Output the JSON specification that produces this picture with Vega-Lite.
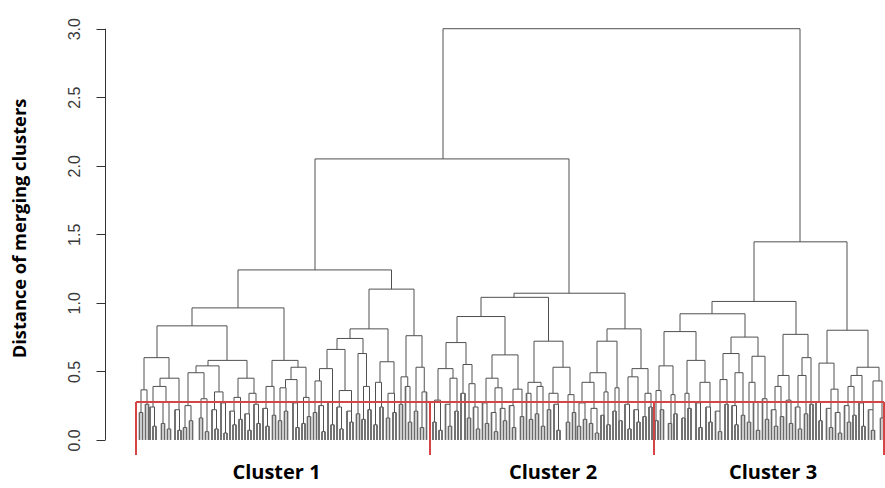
{
  "$schema": "https://vega.github.io/schema/vega-lite/v6.json",
  "width": 780,
  "height": 466,
  "autosize": {"type": "none"},
  "padding": {"left": 105, "top": 15, "right": 0, "bottom": 7},
  "background": "white",
  "config": {"view": {"stroke": null}},
  "datasets": {
    "tree": [
      {"l":443,"r":800,"hl":2.05,"hr":1.445,"h":3.0},
      {"l":315,"r":569,"hl":1.24,"hr":1.07,"h":2.05},
      {"l":238,"r":391.5,"hl":0.963,"hr":1.10,"h":1.24},
      {"l":192,"r":284,"hl":0.832,"hr":0.58,"h":0.963},
      {"l":157,"r":227,"hl":0.60,"hr":0.58,"h":0.832},
      {"l":144,"r":169,"hl":0.365,"hr":0.45,"h":0.60},
      {"l":141,"r":147,"hl":0.20,"hr":0.26,"h":0.365},
      {"l":160,"r":179,"hl":0.39,"hr":0.22,"h":0.45},
      {"l":153,"r":166,"hl":0.24,"hr":0.28,"h":0.39},
      {"l":208,"r":247,"hl":0.54,"hr":0.45,"h":0.58},
      {"l":196,"r":219,"hl":0.49,"hr":0.35,"h":0.54},
      {"l":188,"r":204,"hl":0.25,"hr":0.30,"h":0.49},
      {"l":214.5,"r":223,"hl":0.22,"hr":0.27,"h":0.35},
      {"l":238,"r":254,"hl":0.31,"hr":0.34,"h":0.45},
      {"l":234,"r":240.5,"hl":0.21,"hr":0.15,"h":0.31},
      {"l":249,"r":256,"hl":0.19,"hr":0.26,"h":0.34},
      {"l":272,"r":298,"hl":0.39,"hr":0.53,"h":0.58},
      {"l":266,"r":274,"hl":0.23,"hr":0.18,"h":0.39},
      {"l":291,"r":306,"hl":0.44,"hr":0.31,"h":0.53},
      {"l":285.5,"r":297,"hl":0.38,"hr":0.27,"h":0.44},
      {"l":280,"r":286,"hl":0.14,"hr":0.21,"h":0.38},
      {"l":303.5,"r":309,"hl":0.12,"hr":0.17,"h":0.31},
      {"l":369,"r":414,"hl":0.81,"hr":0.76,"h":1.10},
      {"l":350,"r":388,"hl":0.74,"hr":0.57,"h":0.81},
      {"l":337,"r":363,"hl":0.66,"hr":0.63,"h":0.74},
      {"l":327,"r":345,"hl":0.52,"hr":0.36,"h":0.66},
      {"l":319.5,"r":332.5,"hl":0.43,"hr":0.28,"h":0.52},
      {"l":315,"r":321.25,"hl":0.20,"hr":0.25,"h":0.43},
      {"l":339.25,"r":351.5,"hl":0.24,"hr":0.21,"h":0.36},
      {"l":358,"r":366.5,"hl":0.19,"hr":0.39,"h":0.63},
      {"l":363.5,"r":369.5,"hl":0.15,"hr":0.22,"h":0.39},
      {"l":380,"r":394,"hl":0.42,"hr":0.34,"h":0.57},
      {"l":375.5,"r":381.5,"hl":0.11,"hr":0.24,"h":0.42},
      {"l":388,"r":394.5,"hl":0.16,"hr":0.20,"h":0.34},
      {"l":406,"r":422,"hl":0.46,"hr":0.53,"h":0.76},
      {"l":401,"r":407.75,"hl":0.26,"hr":0.39,"h":0.46},
      {"l":405.5,"r":410,"hl":0,"hr":0.13,"h":0.39},
      {"l":416,"r":424.25,"hl":0.21,"hr":0.35,"h":0.53},
      {"l":422,"r":426.5,"hl":0.09,"hr":0,"h":0.35},
      {"l":139.5,"r":142.5,"hl":0,"hr":0,"h":0.20},
      {"l":145.5,"r":148.5,"hl":0,"hr":0,"h":0.26},
      {"l":153,"r":156,"hl":0,"hr":0,"h":0.10},
      {"l":150,"r":154.5,"hl":0,"hr":0.10,"h":0.24},
      {"l":161.5,"r":164.5,"hl":0,"hr":0,"h":0.12},
      {"l":167.5,"r":170.5,"hl":0,"hr":0,"h":0.08},
      {"l":163,"r":169,"hl":0.12,"hr":0.08,"h":0.28},
      {"l":178,"r":181,"hl":0,"hr":0,"h":0.07},
      {"l":175,"r":179.5,"hl":0,"hr":0.07,"h":0.22},
      {"l":183.5,"r":186.5,"hl":0,"hr":0,"h":0.09},
      {"l":189.5,"r":192.5,"hl":0,"hr":0,"h":0.14},
      {"l":185,"r":191,"hl":0.09,"hr":0.14,"h":0.25},
      {"l":199.5,"r":202.5,"hl":0,"hr":0,"h":0.16},
      {"l":205.5,"r":208.5,"hl":0,"hr":0,"h":0.06},
      {"l":201,"r":207,"hl":0.16,"hr":0.06,"h":0.30},
      {"l":215,"r":218,"hl":0,"hr":0,"h":0.08},
      {"l":212,"r":216.5,"hl":0,"hr":0.08,"h":0.22},
      {"l":224,"r":227,"hl":0,"hr":0,"h":0.05},
      {"l":221,"r":225.5,"hl":0,"hr":0.05,"h":0.27},
      {"l":233,"r":236,"hl":0,"hr":0,"h":0.11},
      {"l":230,"r":234.5,"hl":0,"hr":0.11,"h":0.21},
      {"l":239,"r":242,"hl":0,"hr":0,"h":0.15},
      {"l":248,"r":251,"hl":0,"hr":0,"h":0.07},
      {"l":245,"r":249.5,"hl":0,"hr":0.07,"h":0.19},
      {"l":257,"r":260,"hl":0,"hr":0,"h":0.12},
      {"l":254,"r":258.5,"hl":0,"hr":0.12,"h":0.26},
      {"l":266,"r":269,"hl":0,"hr":0,"h":0.10},
      {"l":263,"r":267.5,"hl":0,"hr":0.10,"h":0.23},
      {"l":272.5,"r":275.5,"hl":0,"hr":0,"h":0.18},
      {"l":278.5,"r":281.5,"hl":0,"hr":0,"h":0.14},
      {"l":284.5,"r":287.5,"hl":0,"hr":0,"h":0.21},
      {"l":296,"r":299,"hl":0,"hr":0,"h":0.09},
      {"l":293,"r":297.5,"hl":0,"hr":0.09,"h":0.27},
      {"l":302,"r":305,"hl":0,"hr":0,"h":0.12},
      {"l":307.5,"r":310.5,"hl":0,"hr":0,"h":0.17},
      {"l":313.5,"r":316.5,"hl":0,"hr":0,"h":0.20},
      {"l":322,"r":325,"hl":0,"hr":0,"h":0.06},
      {"l":319,"r":323.5,"hl":0,"hr":0.06,"h":0.25},
      {"l":331,"r":334,"hl":0,"hr":0,"h":0.11},
      {"l":328,"r":332.5,"hl":0,"hr":0.11,"h":0.28},
      {"l":340,"r":343,"hl":0,"hr":0,"h":0.08},
      {"l":337,"r":341.5,"hl":0,"hr":0.08,"h":0.24},
      {"l":350,"r":353,"hl":0,"hr":0,"h":0.13},
      {"l":347,"r":351.5,"hl":0,"hr":0.13,"h":0.21},
      {"l":356.5,"r":359.5,"hl":0,"hr":0,"h":0.19},
      {"l":362,"r":365,"hl":0,"hr":0,"h":0.15},
      {"l":368,"r":371,"hl":0,"hr":0,"h":0.22},
      {"l":374,"r":377,"hl":0,"hr":0,"h":0.11},
      {"l":380,"r":383,"hl":0,"hr":0,"h":0.24},
      {"l":386.5,"r":389.5,"hl":0,"hr":0,"h":0.16},
      {"l":393,"r":396,"hl":0,"hr":0,"h":0.20},
      {"l":399.5,"r":402.5,"hl":0,"hr":0,"h":0.26},
      {"l":408.5,"r":411.5,"hl":0,"hr":0,"h":0.13},
      {"l":414.5,"r":417.5,"hl":0,"hr":0,"h":0.21},
      {"l":420.5,"r":423.5,"hl":0,"hr":0,"h":0.09},
      {"l":514,"r":625,"hl":1.04,"hr":0.81,"h":1.07},
      {"l":481,"r":548.5,"hl":0.90,"hr":0.72,"h":1.04},
      {"l":457,"r":505,"hl":0.71,"hr":0.62,"h":0.90},
      {"l":446,"r":466,"hl":0.52,"hr":0.55,"h":0.71},
      {"l":438,"r":453,"hl":0.29,"hr":0.45,"h":0.52},
      {"l":450,"r":457,"hl":0.26,"hr":0.21,"h":0.45},
      {"l":463,"r":472,"hl":0.34,"hr":0.41,"h":0.55},
      {"l":461,"r":465,"hl":0,"hr":0,"h":0.34},
      {"l":469,"r":475,"hl":0.16,"hr":0.24,"h":0.41},
      {"l":492,"r":518,"hl":0.45,"hr":0.37,"h":0.62},
      {"l":486,"r":498,"hl":0.27,"hr":0.38,"h":0.45},
      {"l":495,"r":502,"hl":0.20,"hr":0.23,"h":0.38},
      {"l":513,"r":522,"hl":0.25,"hr":0.17,"h":0.37},
      {"l":534,"r":563,"hl":0.42,"hr":0.53,"h":0.72},
      {"l":528,"r":541,"hl":0.34,"hr":0.39,"h":0.42},
      {"l":526.5,"r":531,"hl":0,"hr":0.15,"h":0.34},
      {"l":537,"r":543,"hl":0.19,"hr":0.10,"h":0.39},
      {"l":553,"r":570,"hl":0.34,"hr":0.33,"h":0.53},
      {"l":549,"r":558,"hl":0.22,"hr":0.26,"h":0.34},
      {"l":568,"r":574,"hl":0.13,"hr":0.20,"h":0.33},
      {"l":607,"r":641,"hl":0.72,"hr":0.52,"h":0.81},
      {"l":597,"r":617,"hl":0.49,"hr":0.38,"h":0.72},
      {"l":590,"r":606,"hl":0.42,"hr":0.35,"h":0.49},
      {"l":582,"r":594,"hl":0.27,"hr":0.23,"h":0.42},
      {"l":604,"r":608,"hl":0.18,"hr":0.11,"h":0.35},
      {"l":615,"r":619,"hl":0.21,"hr":0.14,"h":0.38},
      {"l":632,"r":648,"hl":0.46,"hr":0.34,"h":0.52},
      {"l":628,"r":638,"hl":0.26,"hr":0.22,"h":0.46},
      {"l":645,"r":651,"hl":0.17,"hr":0.24,"h":0.34},
      {"l":433,"r":436,"hl":0,"hr":0,"h":0.13},
      {"l":439,"r":442,"hl":0,"hr":0,"h":0.07},
      {"l":434.5,"r":440.5,"hl":0.13,"hr":0.07,"h":0.29},
      {"l":448.5,"r":451.5,"hl":0,"hr":0,"h":0.10},
      {"l":445.5,"r":450,"hl":0,"hr":0.10,"h":0.26},
      {"l":455,"r":458,"hl":0,"hr":0,"h":0.21},
      {"l":467.5,"r":470.5,"hl":0,"hr":0,"h":0.16},
      {"l":476.5,"r":479.5,"hl":0,"hr":0,"h":0.08},
      {"l":473.5,"r":478,"hl":0,"hr":0.08,"h":0.24},
      {"l":485.5,"r":488.5,"hl":0,"hr":0,"h":0.12},
      {"l":482.5,"r":487,"hl":0,"hr":0.12,"h":0.27},
      {"l":494.5,"r":497.5,"hl":0,"hr":0,"h":0.06},
      {"l":491.5,"r":496,"hl":0,"hr":0.06,"h":0.20},
      {"l":503.5,"r":506.5,"hl":0,"hr":0,"h":0.14},
      {"l":500.5,"r":505,"hl":0,"hr":0.14,"h":0.23},
      {"l":512.5,"r":515.5,"hl":0,"hr":0,"h":0.09},
      {"l":509.5,"r":514,"hl":0,"hr":0.09,"h":0.25},
      {"l":520.5,"r":523.5,"hl":0,"hr":0,"h":0.17},
      {"l":529.5,"r":532.5,"hl":0,"hr":0,"h":0.15},
      {"l":535.5,"r":538.5,"hl":0,"hr":0,"h":0.19},
      {"l":541.5,"r":544.5,"hl":0,"hr":0,"h":0.10},
      {"l":547.5,"r":550.5,"hl":0,"hr":0,"h":0.22},
      {"l":557,"r":560,"hl":0,"hr":0,"h":0.07},
      {"l":554,"r":558.5,"hl":0,"hr":0.07,"h":0.26},
      {"l":566.5,"r":569.5,"hl":0,"hr":0,"h":0.13},
      {"l":572.5,"r":575.5,"hl":0,"hr":0,"h":0.20},
      {"l":577.5,"r":580.5,"hl":0,"hr":0,"h":0.10},
      {"l":583.5,"r":586.5,"hl":0,"hr":0,"h":0.15},
      {"l":579,"r":585,"hl":0.10,"hr":0.15,"h":0.27},
      {"l":589.5,"r":592.5,"hl":0,"hr":0,"h":0.12},
      {"l":595.5,"r":598.5,"hl":0,"hr":0,"h":0.05},
      {"l":591,"r":597,"hl":0.12,"hr":0.05,"h":0.23},
      {"l":601,"r":604,"hl":0,"hr":0,"h":0.18},
      {"l":607,"r":610,"hl":0,"hr":0,"h":0.11},
      {"l":613,"r":616,"hl":0,"hr":0,"h":0.21},
      {"l":619,"r":622,"hl":0,"hr":0,"h":0.14},
      {"l":628,"r":631,"hl":0,"hr":0,"h":0.08},
      {"l":625,"r":629.5,"hl":0,"hr":0.08,"h":0.26},
      {"l":637,"r":640,"hl":0,"hr":0,"h":0.13},
      {"l":634,"r":638.5,"hl":0,"hr":0.13,"h":0.22},
      {"l":643,"r":646,"hl":0,"hr":0,"h":0.17},
      {"l":649,"r":652,"hl":0,"hr":0,"h":0.24},
      {"l":754,"r":847,"hl":1.01,"hr":0.80,"h":1.445},
      {"l":712,"r":796,"hl":0.92,"hr":0.77,"h":1.01},
      {"l":680,"r":745,"hl":0.79,"hr":0.75,"h":0.92},
      {"l":664,"r":696,"hl":0.54,"hr":0.58,"h":0.79},
      {"l":659,"r":673,"hl":0.36,"hr":0.33,"h":0.54},
      {"l":656,"r":661,"hl":0.14,"hr":0.22,"h":0.36},
      {"l":671,"r":675,"hl":0.12,"hr":0.19,"h":0.33},
      {"l":687,"r":705,"hl":0.34,"hr":0.42,"h":0.58},
      {"l":685,"r":689,"hl":0.16,"hr":0.23,"h":0.34},
      {"l":700,"r":710,"hl":0.27,"hr":0.24,"h":0.42},
      {"l":731,"r":758,"hl":0.63,"hr":0.61,"h":0.75},
      {"l":723,"r":739,"hl":0.44,"hr":0.49,"h":0.63},
      {"l":720,"r":727,"hl":0.21,"hr":0.26,"h":0.44},
      {"l":735,"r":743,"hl":0.25,"hr":0.18,"h":0.49},
      {"l":752,"r":765,"hl":0.42,"hr":0.30,"h":0.61},
      {"l":749,"r":755,"hl":0.13,"hr":0.28,"h":0.42},
      {"l":783,"r":808,"hl":0.47,"hr":0.60,"h":0.77},
      {"l":778,"r":789,"hl":0.39,"hr":0.29,"h":0.47},
      {"l":775,"r":781,"hl":0.22,"hr":0.17,"h":0.39},
      {"l":802,"r":811,"hl":0.47,"hr":0.26,"h":0.60},
      {"l":798,"r":806,"hl":0.24,"hr":0.19,"h":0.47},
      {"l":827,"r":868,"hl":0.56,"hr":0.53,"h":0.80},
      {"l":819,"r":834,"hl":0.28,"hr":0.37,"h":0.56},
      {"l":831,"r":838,"hl":0.23,"hr":0.20,"h":0.37},
      {"l":857,"r":879,"hl":0.47,"hr":0.43,"h":0.53},
      {"l":851,"r":862,"hl":0.39,"hr":0.27,"h":0.47},
      {"l":848,"r":854,"hl":0.25,"hr":0.18,"h":0.39},
      {"l":873,"r":882,"hl":0.22,"hr":0.16,"h":0.43},
      {"l":655,"r":658,"hl":0,"hr":0,"h":0.14},
      {"l":660.5,"r":663.5,"hl":0,"hr":0,"h":0.22},
      {"l":668.5,"r":671.5,"hl":0,"hr":0,"h":0.12},
      {"l":674,"r":677,"hl":0,"hr":0,"h":0.19},
      {"l":682,"r":685,"hl":0,"hr":0,"h":0.16},
      {"l":688,"r":691,"hl":0,"hr":0,"h":0.23},
      {"l":699,"r":702,"hl":0,"hr":0,"h":0.09},
      {"l":696,"r":700.5,"hl":0,"hr":0.09,"h":0.27},
      {"l":709,"r":712,"hl":0,"hr":0,"h":0.13},
      {"l":706,"r":710.5,"hl":0,"hr":0.13,"h":0.24},
      {"l":718.5,"r":721.5,"hl":0,"hr":0,"h":0.06},
      {"l":715.5,"r":720,"hl":0,"hr":0.06,"h":0.21},
      {"l":725,"r":728,"hl":0,"hr":0,"h":0.26},
      {"l":735,"r":738,"hl":0,"hr":0,"h":0.11},
      {"l":732,"r":736.5,"hl":0,"hr":0.11,"h":0.25},
      {"l":741.5,"r":744.5,"hl":0,"hr":0,"h":0.18},
      {"l":747.5,"r":750.5,"hl":0,"hr":0,"h":0.13},
      {"l":756.5,"r":759.5,"hl":0,"hr":0,"h":0.07},
      {"l":753.5,"r":758,"hl":0,"hr":0.07,"h":0.28},
      {"l":765.5,"r":768.5,"hl":0,"hr":0,"h":0.15},
      {"l":762.5,"r":767,"hl":0,"hr":0.15,"h":0.30},
      {"l":774.5,"r":777.5,"hl":0,"hr":0,"h":0.10},
      {"l":771.5,"r":776,"hl":0,"hr":0.10,"h":0.22},
      {"l":780.5,"r":783.5,"hl":0,"hr":0,"h":0.17},
      {"l":789.5,"r":792.5,"hl":0,"hr":0,"h":0.12},
      {"l":786.5,"r":791,"hl":0,"hr":0.12,"h":0.29},
      {"l":798.5,"r":801.5,"hl":0,"hr":0,"h":0.08},
      {"l":795.5,"r":800,"hl":0,"hr":0.08,"h":0.24},
      {"l":804.5,"r":807.5,"hl":0,"hr":0,"h":0.19},
      {"l":810,"r":813,"hl":0,"hr":0,"h":0.26},
      {"l":819,"r":822,"hl":0,"hr":0,"h":0.14},
      {"l":816,"r":820.5,"hl":0,"hr":0.14,"h":0.28},
      {"l":829.5,"r":832.5,"hl":0,"hr":0,"h":0.09},
      {"l":826.5,"r":831,"hl":0,"hr":0.09,"h":0.23},
      {"l":838.5,"r":841.5,"hl":0,"hr":0,"h":0.05},
      {"l":835.5,"r":840,"hl":0,"hr":0.05,"h":0.20},
      {"l":847.5,"r":850.5,"hl":0,"hr":0,"h":0.13},
      {"l":844.5,"r":849,"hl":0,"hr":0.13,"h":0.25},
      {"l":853,"r":856,"hl":0,"hr":0,"h":0.18},
      {"l":862,"r":865,"hl":0,"hr":0,"h":0.10},
      {"l":859,"r":863.5,"hl":0,"hr":0.10,"h":0.27},
      {"l":871.5,"r":874.5,"hl":0,"hr":0,"h":0.07},
      {"l":868.5,"r":873,"hl":0,"hr":0.07,"h":0.22},
      {"l":880.5,"r":883.5,"hl":0,"hr":0,"h":0.16}
    ],
    "rects": [
      {"cluster":"Cluster 1","x1":136,"x2":430,"bottom":-0.11,"top":0.277},
      {"cluster":"Cluster 2","x1":430,"x2":654,"bottom":-0.11,"top":0.277},
      {"cluster":"Cluster 3","x1":654,"x2":884,"bottom":-0.11,"top":0.277}
    ],
    "axisline": [
      {"pos":105.5,"lo":0,"hi":3}
    ],
    "labels": [
      {"label":"Cluster 1","pos":276.5,"v":-0.24},
      {"label":"Cluster 2","pos":553,"v":-0.24},
      {"label":"Cluster 3","pos":773,"v":-0.24}
    ]
  },
  "layer": [
    {
      "data": {"name": "tree"},
      "mark": {"type": "rule", "color": "#505050", "strokeWidth": 1},
      "encoding": {
        "x": {"field": "l", "type": "quantitative", "scale": {"domain": [105, 885], "nice": false, "zero": false}, "axis": null},
        "y": {"field": "hl", "type": "quantitative", "scale": {"domain": [-0.3, 3.1], "nice": false, "zero": false},
          "axis": {
            "values": [0, 0.5, 1, 1.5, 2, 2.5, 3],
            "format": ".1f",
            "domain": false,
            "grid": false,
            "ticks": true,
            "tickSize": 9,
            "tickWidth": 1,
            "tickColor": "#333333",
            "labelAngle": -90,
            "labelAlign": "center",
            "labelBaseline": "bottom",
            "labelPadding": 14,
            "labelFont": "Liberation Sans",
            "labelFontSize": 16,
            "labelColor": "#3a3a3a",
            "title": "Distance of merging clusters",
            "titleFont": "Open Sans",
            "titleFontWeight": "bold",
            "titleFontSize": 18.3,
            "titleColor": "#000000",
            "titleAngle": -90,
            "titleX": -85,
            "titleY": 213,
            "titleAlign": "center",
            "titleBaseline": "middle"
          }
        },
        "y2": {"field": "h"}
      }
    },
    {
      "data": {"name": "tree"},
      "mark": {"type": "rule", "color": "#505050", "strokeWidth": 1},
      "encoding": {
        "x": {"field": "r", "type": "quantitative"},
        "y": {"field": "hr", "type": "quantitative"},
        "y2": {"field": "h"}
      }
    },
    {
      "data": {"name": "tree"},
      "mark": {"type": "rule", "color": "#505050", "strokeWidth": 1},
      "encoding": {
        "x": {"field": "l", "type": "quantitative"},
        "x2": {"field": "r"},
        "y": {"field": "h", "type": "quantitative"}
      }
    },
    {
      "data": {"name": "tree"},
      "transform": [{"filter": "datum.hl == 0"}],
      "mark": {"type": "rule", "color": "#6a6a6a", "strokeWidth": 1.7},
      "encoding": {
        "x": {"field": "l", "type": "quantitative"},
        "y": {"field": "hl", "type": "quantitative"},
        "y2": {"field": "h"}
      }
    },
    {
      "data": {"name": "tree"},
      "transform": [{"filter": "datum.hr == 0"}],
      "mark": {"type": "rule", "color": "#6a6a6a", "strokeWidth": 1.7},
      "encoding": {
        "x": {"field": "r", "type": "quantitative"},
        "y": {"field": "hr", "type": "quantitative"},
        "y2": {"field": "h"}
      }
    },
    {
      "data": {"name": "rects"},
      "mark": {"type": "rule", "color": "#d64545", "strokeWidth": 2},
      "encoding": {
        "x": {"field": "x1", "type": "quantitative"},
        "x2": {"field": "x2"},
        "y": {"field": "top", "type": "quantitative"}
      }
    },
    {
      "data": {"name": "rects"},
      "mark": {"type": "rule", "color": "#d64545", "strokeWidth": 2},
      "encoding": {
        "x": {"field": "x1", "type": "quantitative"},
        "y": {"field": "bottom", "type": "quantitative"},
        "y2": {"field": "top"}
      }
    },
    {
      "data": {"name": "rects"},
      "mark": {"type": "rule", "color": "#d64545", "strokeWidth": 2},
      "encoding": {
        "x": {"field": "x2", "type": "quantitative"},
        "y": {"field": "bottom", "type": "quantitative"},
        "y2": {"field": "top"}
      }
    },
    {
      "data": {"name": "axisline"},
      "mark": {"type": "rule", "color": "#333333", "strokeWidth": 1},
      "encoding": {
        "x": {"field": "pos", "type": "quantitative"},
        "y": {"field": "lo", "type": "quantitative"},
        "y2": {"field": "hi"}
      }
    },
    {
      "data": {"name": "labels"},
      "mark": {"type": "text", "font": "Open Sans", "fontWeight": "bold", "fontSize": 20, "color": "#000000", "align": "center", "baseline": "middle"},
      "encoding": {
        "x": {"field": "pos", "type": "quantitative"},
        "y": {"field": "v", "type": "quantitative"},
        "text": {"field": "label", "type": "nominal"}
      }
    }
  ]
}
